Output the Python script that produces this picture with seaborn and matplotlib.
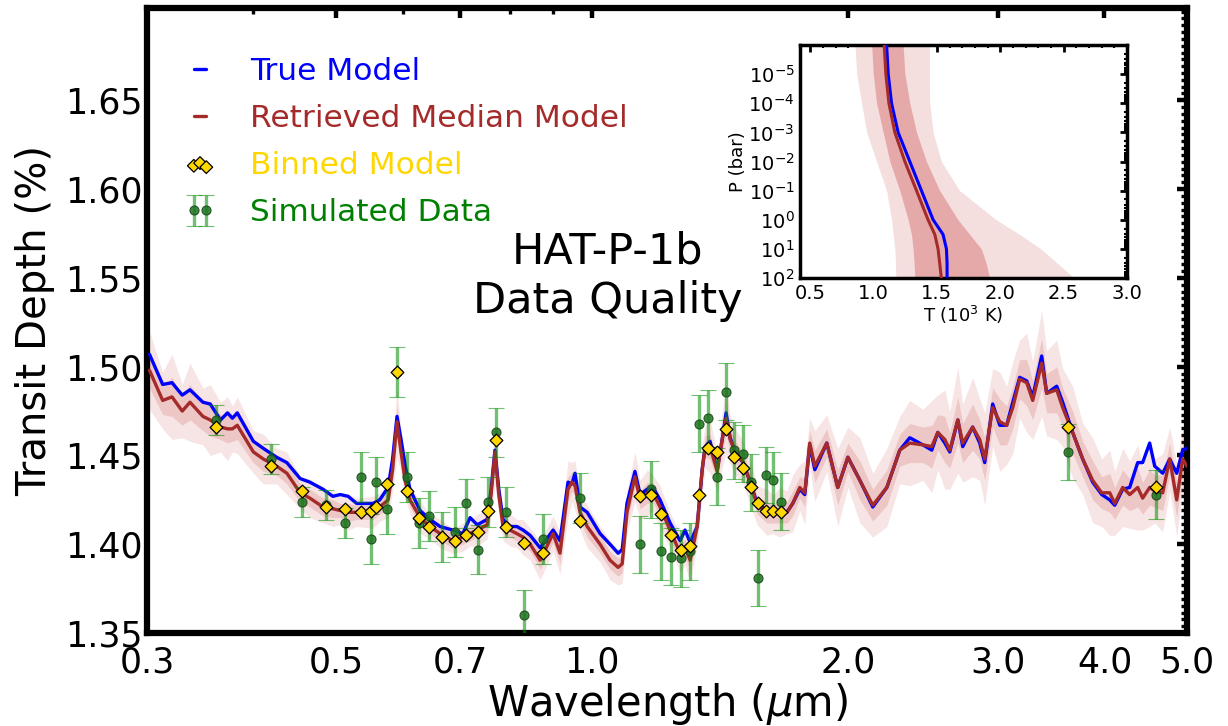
import numpy as np
import matplotlib
matplotlib.use("Agg")
import matplotlib.pyplot as plt
import seaborn as sns
from matplotlib.ticker import FixedLocator, NullFormatter, AutoMinorLocator, MultipleLocator, LogLocator
from matplotlib.lines import Line2D

# ---------------- data: spectrum ----------------
wavelength = [
    0.302, 0.313, 0.321, 0.330, 0.337, 0.349, 0.356, 0.366, 0.373, 0.378,
    0.383, 0.400, 0.411, 0.426, 0.438, 0.454, 0.466, 0.483, 0.496, 0.506,
    0.517, 0.529, 0.553, 0.563, 0.576, 0.583, 0.590, 0.596, 0.603, 0.611,
    0.628, 0.645, 0.663, 0.686, 0.705, 0.719, 0.733, 0.753, 0.761, 0.769,
    0.777, 0.786, 0.801, 0.816, 0.830, 0.846, 0.869, 0.900, 0.917, 0.937,
    0.947, 0.955, 0.968, 0.987, 1.022, 1.050, 1.073, 1.085, 1.099, 1.123,
    1.139, 1.161, 1.179, 1.202, 1.235, 1.269, 1.286, 1.304, 1.329, 1.347,
    1.358, 1.376, 1.403, 1.422, 1.437, 1.453, 1.473, 1.505, 1.534, 1.563,
    1.605, 1.631, 1.662, 1.694, 1.721, 1.754, 1.778, 1.802, 1.827, 1.887,
    1.944, 1.998, 2.064, 2.137, 2.220, 2.299, 2.362, 2.447, 2.507, 2.548,
    2.597, 2.632, 2.690, 2.726, 2.800, 2.854, 2.893, 2.956, 3.013, 3.070,
    3.121, 3.180, 3.241, 3.294, 3.375, 3.421, 3.515, 3.572, 3.670, 3.771,
    3.874, 3.970, 4.057, 4.112, 4.202, 4.282, 4.376, 4.435, 4.520, 4.582,
    4.682, 4.772, 4.863, 4.942, 5.000]

true_model = [
    1.507, 1.490, 1.491, 1.484, 1.487, 1.480, 1.479, 1.470, 1.474, 1.471,
    1.474, 1.458, 1.454, 1.449, 1.446, 1.437, 1.435, 1.431, 1.427, 1.428,
    1.427, 1.423, 1.423, 1.425, 1.432, 1.448, 1.472, 1.460, 1.445, 1.431,
    1.419, 1.414, 1.410, 1.408, 1.406, 1.415, 1.411, 1.414, 1.431, 1.453,
    1.431, 1.414, 1.410, 1.410, 1.408, 1.405, 1.398, 1.408, 1.402, 1.435,
    1.434, 1.440, 1.421, 1.418, 1.406, 1.400, 1.395, 1.397, 1.423, 1.441,
    1.428, 1.431, 1.432, 1.425, 1.412, 1.402, 1.408, 1.401, 1.410, 1.442,
    1.455, 1.458, 1.442, 1.459, 1.474, 1.460, 1.452, 1.446, 1.435, 1.423,
    1.419, 1.418, 1.419, 1.418, 1.423, 1.431, 1.428, 1.456, 1.442, 1.457,
    1.432, 1.449, 1.436, 1.421, 1.432, 1.453, 1.460, 1.456, 1.453, 1.463,
    1.457, 1.452, 1.470, 1.455, 1.466, 1.457, 1.446, 1.479, 1.467, 1.467,
    1.480, 1.494, 1.492, 1.483, 1.506, 1.485, 1.489, 1.480, 1.463, 1.448,
    1.435, 1.428, 1.425, 1.422, 1.431, 1.432, 1.446, 1.446, 1.457, 1.444,
    1.440, 1.448, 1.440, 1.453, 1.454]

retrieved_median = [
    1.498, 1.481, 1.483, 1.475, 1.480, 1.472, 1.470, 1.466, 1.465, 1.465,
    1.467, 1.452, 1.448, 1.444, 1.440, 1.429, 1.426, 1.421, 1.420, 1.419,
    1.418, 1.418, 1.418, 1.421, 1.425, 1.442, 1.469, 1.453, 1.436, 1.425,
    1.415, 1.410, 1.406, 1.402, 1.404, 1.406, 1.408, 1.411, 1.428, 1.452,
    1.428, 1.410, 1.408, 1.406, 1.404, 1.400, 1.391, 1.406, 1.395, 1.431,
    1.435, 1.433, 1.418, 1.410, 1.400, 1.391, 1.387, 1.389, 1.418, 1.438,
    1.425, 1.429, 1.429, 1.421, 1.408, 1.395, 1.398, 1.391, 1.410, 1.442,
    1.455, 1.455, 1.441, 1.459, 1.471, 1.459, 1.452, 1.446, 1.435, 1.422,
    1.418, 1.417, 1.418, 1.418, 1.423, 1.432, 1.429, 1.457, 1.444, 1.457,
    1.432, 1.449, 1.436, 1.422, 1.432, 1.453, 1.457, 1.456, 1.455, 1.463,
    1.459, 1.453, 1.470, 1.457, 1.466, 1.459, 1.448, 1.477, 1.469, 1.467,
    1.477, 1.493, 1.491, 1.481, 1.502, 1.485, 1.487, 1.477, 1.463, 1.448,
    1.436, 1.429, 1.429, 1.423, 1.432, 1.428, 1.432, 1.426, 1.432, 1.430,
    1.429, 1.448, 1.425, 1.448, 1.444]

spread_2sigma = [
    0.022, 0.016, 0.024, 0.015, 0.022, 0.016, 0.020, 0.014, 0.018, 0.013,
    0.016, 0.012, 0.014, 0.010, 0.012, 0.009, 0.011, 0.009, 0.010, 0.008,
    0.010, 0.008, 0.009, 0.008, 0.010, 0.012, 0.020, 0.012, 0.010, 0.008,
    0.009, 0.007, 0.008, 0.007, 0.008, 0.007, 0.009, 0.008, 0.012, 0.018,
    0.011, 0.008, 0.009, 0.008, 0.010, 0.009, 0.011, 0.010, 0.012, 0.016,
    0.011, 0.014, 0.010, 0.012, 0.010, 0.011, 0.010, 0.011, 0.012, 0.014,
    0.011, 0.013, 0.010, 0.012, 0.010, 0.011, 0.010, 0.012, 0.011, 0.014,
    0.012, 0.015, 0.011, 0.016, 0.020, 0.014, 0.013, 0.012, 0.013, 0.011,
    0.013, 0.011, 0.014, 0.012, 0.016, 0.013, 0.018, 0.014, 0.020, 0.016,
    0.022, 0.017, 0.024, 0.018, 0.022, 0.019, 0.024, 0.020, 0.026, 0.021,
    0.028, 0.022, 0.030, 0.022, 0.028, 0.023, 0.026, 0.022, 0.028, 0.022,
    0.026, 0.022, 0.028, 0.022, 0.030, 0.024, 0.028, 0.022, 0.026, 0.020,
    0.024, 0.019, 0.024, 0.018, 0.022, 0.019, 0.024, 0.018, 0.022, 0.018,
    0.022, 0.018, 0.021, 0.017, 0.020]

spread_1sigma = [
    0.010, 0.008, 0.011, 0.008, 0.010, 0.008, 0.009, 0.007, 0.008, 0.007,
    0.008, 0.006, 0.007, 0.005, 0.006, 0.005, 0.005, 0.005, 0.005, 0.004,
    0.005, 0.004, 0.004, 0.004, 0.005, 0.006, 0.009, 0.006, 0.005, 0.004,
    0.004, 0.004, 0.004, 0.004, 0.004, 0.004, 0.004, 0.004, 0.006, 0.008,
    0.005, 0.004, 0.004, 0.004, 0.005, 0.004, 0.005, 0.005, 0.006, 0.007,
    0.005, 0.006, 0.005, 0.006, 0.005, 0.005, 0.005, 0.005, 0.006, 0.006,
    0.005, 0.006, 0.005, 0.006, 0.005, 0.005, 0.005, 0.006, 0.005, 0.006,
    0.006, 0.007, 0.005, 0.007, 0.009, 0.007, 0.006, 0.006, 0.006, 0.005,
    0.006, 0.005, 0.006, 0.006, 0.007, 0.006, 0.008, 0.007, 0.009, 0.008,
    0.010, 0.008, 0.011, 0.009, 0.010, 0.009, 0.011, 0.010, 0.012, 0.010,
    0.013, 0.010, 0.013, 0.011, 0.013, 0.011, 0.012, 0.011, 0.013, 0.011,
    0.012, 0.011, 0.013, 0.011, 0.014, 0.011, 0.013, 0.011, 0.012, 0.010,
    0.011, 0.009, 0.011, 0.009, 0.010, 0.009, 0.011, 0.009, 0.010, 0.009,
    0.010, 0.009, 0.010, 0.008, 0.009]

bin_wavelength = [
    0.362, 0.420, 0.456, 0.487, 0.513, 0.535, 0.550, 0.557, 0.574, 0.590,
    0.606, 0.626, 0.643, 0.666, 0.690, 0.711, 0.735, 0.755, 0.771, 0.792,
    0.832, 0.876, 0.968, 1.139, 1.173, 1.205, 1.238, 1.272, 1.303, 1.336,
    1.368, 1.402, 1.437, 1.468, 1.504, 1.537, 1.567, 1.601, 1.632, 1.667,
    3.624, 4.598]

binned_model = [
    1.466, 1.444, 1.430, 1.421, 1.420, 1.418, 1.419, 1.421, 1.434, 1.497,
    1.430, 1.415, 1.410, 1.404, 1.402, 1.405, 1.407, 1.419, 1.459, 1.410,
    1.401, 1.395, 1.413, 1.427, 1.428, 1.417, 1.405, 1.397, 1.399, 1.428,
    1.454, 1.452, 1.465, 1.449, 1.443, 1.432, 1.423, 1.419, 1.419, 1.418,
    1.466, 1.432]

sim_data = [
    1.470, 1.448, 1.424, 1.422, 1.412, 1.438, 1.403, 1.435, 1.420, 1.497,
    1.438, 1.412, 1.416, 1.404, 1.407, 1.423, 1.397, 1.424, 1.463, 1.418,
    1.360, 1.403, 1.426, 1.400, 1.431, 1.396, 1.393, 1.392, 1.396, 1.468,
    1.471, 1.438, 1.486, 1.453, 1.451, 1.435, 1.381, 1.439, 1.436, 1.424,
    1.452, 1.428]

sim_err = [
    0.0085, 0.0085, 0.0085, 0.0085, 0.0085, 0.014, 0.014, 0.014, 0.014, 0.014,
    0.014, 0.014, 0.014, 0.014, 0.014, 0.014, 0.014, 0.014, 0.014, 0.014,
    0.014, 0.014, 0.014, 0.016, 0.016, 0.016, 0.016, 0.016, 0.016, 0.016,
    0.016, 0.016, 0.016, 0.016, 0.016, 0.016, 0.016, 0.016, 0.016, 0.016,
    0.016, 0.014]

x_ticks = [0.3, 0.5, 0.7, 1.0, 2.0, 3.0, 4.0, 5.0]
x_ticklabels = ["0.3", "0.5", "0.7", "1.0", "2.0", "3.0", "4.0", "5.0"]
x_minor = [0.4, 0.6, 0.8, 0.9]
y_ticks = [1.35, 1.40, 1.45, 1.50, 1.55, 1.60, 1.65]

# ---------------- data: P-T inset ----------------
pt_pressure = [1e-6, 1e-5, 1e-4, 1e-3, 1e-2, 1e-1, 1e0, 3.16, 1e1, 31.6, 1e2]
pt_true = [1.103, 1.116, 1.142, 1.194, 1.286, 1.378, 1.470, 1.548, 1.575, 1.580, 1.580]
pt_median = [1.084, 1.097, 1.121, 1.168, 1.247, 1.339, 1.430, 1.483, 1.509, 1.522, 1.535]
pt_1s_lo = [0.985, 0.998, 1.024, 1.076, 1.129, 1.207, 1.273, 1.299, 1.312, 1.320, 1.325]
pt_1s_hi = [1.233, 1.247, 1.286, 1.339, 1.417, 1.522, 1.666, 1.758, 1.850, 1.889, 1.915]
pt_2s_lo = [0.854, 0.867, 0.906, 0.946, 1.024, 1.103, 1.142, 1.155, 1.168, 1.173, 1.176]
pt_2s_hi = [1.440, 1.440, 1.443, 1.470, 1.535, 1.679, 1.968, 2.151, 2.321, 2.452, 2.583]
pt_xticks = [0.5, 1.0, 1.5, 2.0, 2.5, 3.0]
pt_yticks = [1e-5, 1e-4, 1e-3, 1e-2, 1e-1, 1e0, 1e1, 1e2]

# ---------------- style ----------------
sns.set_style("white")
plt.rcParams['font.family'] = ['DejaVu Sans']
plt.rcParams['mathtext.fontset'] = 'dejavusans'
plt.rcParams['text.color'] = 'black'
plt.rcParams['axes.labelcolor'] = 'black'
plt.rcParams['xtick.color'] = 'black'
plt.rcParams['ytick.color'] = 'black'

BLUE = '#0000FF'
BROWN = '#A52A2A'
GOLD = '#FFD700'
GREEN = '#008000'

fig = plt.figure(figsize=(12.28, 7.26), dpi=100)
ax = fig.add_axes([0.1197, 0.128, 0.8469, 0.861])
ax.set_xscale('log')

wl = np.array(wavelength)
rm = np.array(retrieved_median)
s2 = np.array(spread_2sigma)
s1 = np.array(spread_1sigma)

ax.fill_between(wl, rm - s2, rm + s2, color='#C43C3C', alpha=0.13, lw=0, zorder=1)
ax.fill_between(wl, rm - s1, rm + s1, color='#C43C3C', alpha=0.18, lw=0, zorder=1.1)

sns.lineplot(x=wavelength, y=true_model, color=BLUE, lw=2.4, ax=ax,
             estimator=None, sort=False, zorder=3)
sns.lineplot(x=wavelength, y=retrieved_median, color=BROWN, lw=2.4, ax=ax,
             estimator=None, sort=False, zorder=3.1)

eb = ax.errorbar(bin_wavelength, sim_data, yerr=sim_err, fmt='o', ms=6.5,
                 mfc=(0.12, 0.45, 0.12, 0.85), mec=(0.1, 0.3, 0.1, 0.9), mew=0.8,
                 ecolor=(0.0, 0.55, 0.0, 0.55), elinewidth=2.4, capsize=6, capthick=1.6,
                 zorder=4)
sns.scatterplot(x=bin_wavelength, y=binned_model, marker='D', s=42, color=GOLD,
                edgecolor='black', linewidth=0.9, ax=ax, zorder=5, legend=False)
sc = ax.collections[-1]

ax.set_xlim(0.3, 5.0)
ax.set_ylim(1.35, 1.702)
ax.xaxis.set_major_locator(FixedLocator(x_ticks))
ax.set_xticklabels(x_ticklabels)
ax.xaxis.set_minor_locator(FixedLocator(x_minor))
ax.xaxis.set_minor_formatter(NullFormatter())
ax.set_yticks(y_ticks)
ax.set_yticklabels([f"{v:.2f}" for v in y_ticks])
ax.yaxis.set_minor_locator(AutoMinorLocator(13))

ax.tick_params(which='major', direction='in', top=True, right=True, length=7.5,
               width=3.2, labelsize=25, colors='black', pad=9)
ax.tick_params(axis='y', which='major', pad=3)
ax.tick_params(which='minor', direction='in', top=True, right=True, length=4,
               width=2.4, colors='black')
for sp in ax.spines.values():
    sp.set_linewidth(4.5)
    sp.set_color('black')

ax.set_xlabel(r"Wavelength ($\mu$m)", fontsize=30, labelpad=1, color='black')
ax.set_ylabel("Transit Depth (%)", fontsize=29, labelpad=7, color='black')

ax.text(0.443, 0.571, "HAT-P-1b\nData Quality", transform=ax.transAxes,
        ha='center', va='center', fontsize=31, linespacing=1.25, color='black')

h_true = Line2D([], [], color=BLUE, lw=2.4)
h_ret = Line2D([], [], color=BROWN, lw=2.4)
leg = ax.legend([h_true, h_ret, sc, eb],
                ["True Model", "Retrieved Median Model", "Binned Model", "Simulated Data"],
                loc='upper left', bbox_to_anchor=(0.036, 0.922), frameon=False,
                fontsize=22.5, handlelength=1.0, handletextpad=1.1, labelspacing=0.58,
                numpoints=2, scatterpoints=3, borderpad=0, borderaxespad=0)
for t, c in zip(leg.get_texts(), [BLUE, BROWN, GOLD, GREEN]):
    t.set_color(c)

# ---------------- inset ----------------
axin = fig.add_axes([0.6515, 0.617, 0.2663, 0.321])
axin.set_facecolor('white')
axin.set_yscale('log')
axin.fill_betweenx(pt_pressure, pt_2s_lo, pt_2s_hi, color='#F4DEDE', lw=0, zorder=1)
axin.fill_betweenx(pt_pressure, pt_1s_lo, pt_1s_hi, color='#E5A9A9', lw=0, zorder=2)
sns.lineplot(x=pt_true, y=pt_pressure, color=BLUE, lw=2.2, ax=axin,
             estimator=None, sort=False, orient='y', zorder=3)
sns.lineplot(x=pt_median, y=pt_pressure, color=BROWN, lw=2.2, ax=axin,
             estimator=None, sort=False, orient='y', zorder=3.1)
axin.set_xlim(0.42, 3.0)
axin.set_ylim(1e2, 1e-6)
axin.set_xticks(pt_xticks)
axin.set_xticklabels([f"{v:.1f}" for v in pt_xticks])
axin.xaxis.set_minor_locator(MultipleLocator(0.1))
axin.set_yticks(pt_yticks)
axin.yaxis.set_minor_locator(LogLocator(base=10, subs=np.arange(2, 10), numticks=100))
axin.yaxis.set_minor_formatter(NullFormatter())
axin.tick_params(which='major', direction='in', top=True, right=True, length=5,
                 width=2, labelsize=14, pad=4, colors='black')
axin.tick_params(which='minor', direction='in', top=True, right=True, length=2.5,
                 width=1.5, colors='black')
for sp in axin.spines.values():
    sp.set_linewidth(2.5)
    sp.set_color('black')
axin.set_xlabel(r"T (10$^3$ K)", fontsize=13, labelpad=1, color='black')
axin.set_ylabel("P (bar)", fontsize=13, labelpad=1, color='black')

fig.savefig("out.png", dpi=100)
